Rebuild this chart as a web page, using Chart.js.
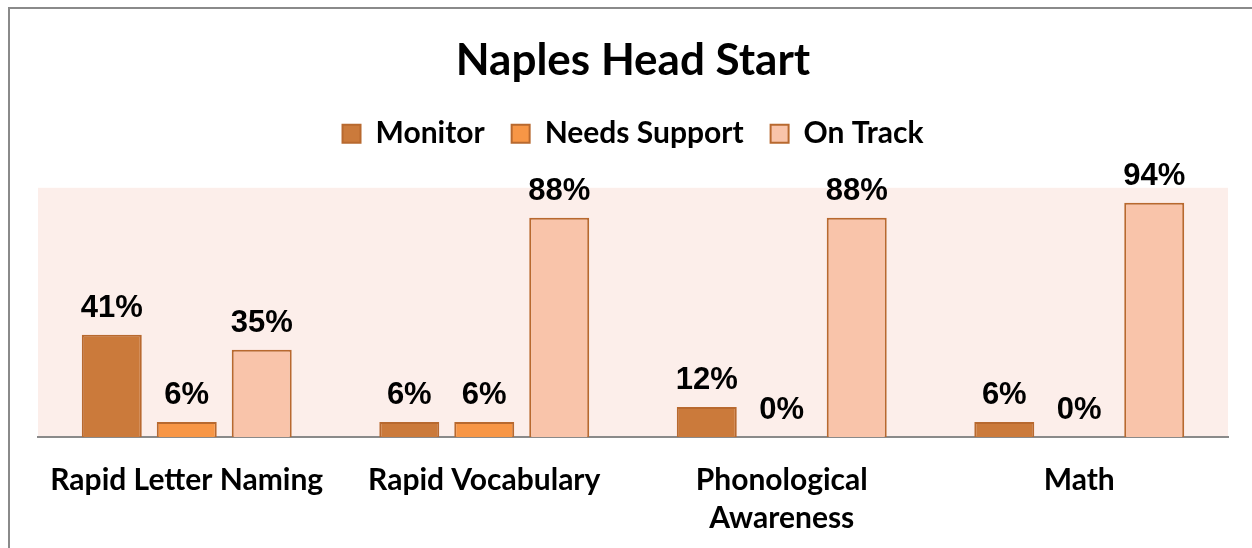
<!DOCTYPE html>
<html>
<head>
<meta charset="utf-8">
<script src="https://cdn.jsdelivr.net/npm/chart.js@4"></script>
<style>
  body { margin: 0; background: #fff; }
  #wrap { position: relative; width: 1252px; height: 548px; overflow: hidden; }
  #frame { position: absolute; left: 8px; top: 7px; width: 1300px; height: 600px; border: 2px solid #8a8a8a; pointer-events: none; }
</style>
</head>
<body>
<div id="wrap">
  <canvas id="chart" width="1252" height="548"></canvas>
  <div id="frame"></div>
</div>
<script>
const categories = ['Rapid Letter Naming', 'Rapid Vocabulary', ['Phonological', 'Awareness'], 'Math'];
const seriesNames = ['Monitor', 'Needs Support', 'On Track'];
const monitor = [41, 6, 12, 6];
const needsSupport = [6, 6, 0, 0];
const onTrack = [35, 88, 88, 94];
const fills = ['#CB7A3B', '#F79646', '#F9C4AA'];
const edge = '#B8692F';

// light pink plot background
const plotBg = {
  id: 'plotBg',
  beforeDraw(chart) {
    const a = chart.chartArea, ctx = chart.ctx;
    ctx.save();
    ctx.fillStyle = '#FCEEEA';
    ctx.fillRect(a.left, a.top, a.right - a.left, a.bottom - a.top);
    ctx.restore();
  }
};

// percent labels above the bars
const barLabels = {
  id: 'barLabels',
  afterDatasetsDraw(chart) {
    const ctx = chart.ctx;
    ctx.save();
    ctx.font = 'bold 31px "Liberation Sans", Arial, sans-serif';
    ctx.fillStyle = '#000';
    ctx.textAlign = 'center';
    ctx.textBaseline = 'alphabetic';
    chart.data.datasets.forEach((ds, i) => {
      chart.getDatasetMeta(i).data.forEach((bar, j) => {
        ctx.fillText(ds.data[j] + '%', bar.x, bar.y - 18);
      });
    });
    ctx.restore();
  }
};

new Chart(document.getElementById('chart'), {
  type: 'bar',
  data: {
    labels: categories,
    datasets: [monitor, needsSupport, onTrack].map((d, i) => ({
      label: seriesNames[i],
      data: d,
      xAxisID: 'x',
      backgroundColor: fills[i],
      borderColor: edge,
      borderWidth: c => c.raw === 0 ? 0 : 2,
      categoryPercentage: 0.756,
      barPercentage: 0.8
    }))
  },
  options: {
    responsive: false,
    animation: false,
    layout: { padding: { left: 38, right: 24, top: 0, bottom: 0 } },
    plugins: {
      title: {
        display: true,
        text: 'Naples Head Start',
        color: '#000',
        font: { family: 'Lato', size: 44, weight: 'bold' },
        padding: { top: 34, bottom: 5 }
      },
      legend: {
        labels: {
          color: '#000',
          font: { family: 'Lato', size: 30, weight: 'bold' },
          boxWidth: 18,
          boxHeight: 18,
          padding: 27
        }
      },
      tooltip: { enabled: false }
    },
    scales: {
      x: {
        grid: { display: false },
        border: { display: true, color: '#8a8a8a', width: 2 },
        ticks: {
          color: '#000',
          autoSkip: false,
          maxRotation: 0,
          padding: 16,
          font: { family: 'Lato', size: 30, weight: 'bold', lineHeight: 1.27 }
        },
        afterFit: s => { s.height = 111; }
      },
      gap: {
        type: 'category',
        axis: 'x',
        position: 'top',
        grid: { display: false },
        border: { display: false },
        ticks: { display: false },
        afterFit: s => { s.height = 29; }
      },
      y: { display: false, min: 0, max: 100 }
    }
  },
  plugins: [plotBg, barLabels]
});
</script>
</body>
</html>
